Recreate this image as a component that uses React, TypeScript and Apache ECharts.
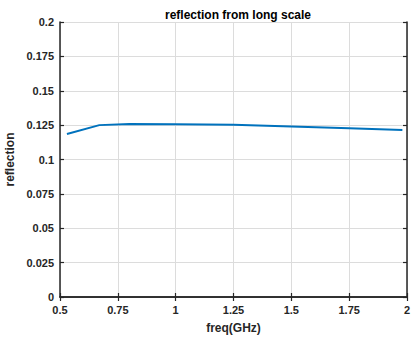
import React, { useEffect, useRef } from "react";
import * as echarts from "echarts";

const freq = [0.53, 0.67, 0.8, 1.0, 1.25, 1.5, 1.75, 1.98];
const reflection = [0.1185, 0.125, 0.1259, 0.1257, 0.1252, 0.124, 0.1228, 0.1215];
const xTicks = [0.5, 0.75, 1, 1.25, 1.5, 1.75, 2];
const yTicks = [0, 0.025, 0.05, 0.075, 0.1, 0.125, 0.15, 0.175, 0.2];

const font = "Liberation Sans, Arial, sans-serif";

export default function App() {
  const ref = useRef<HTMLDivElement>(null);
  useEffect(() => {
    const chart = echarts.init(ref.current!, null, { renderer: "svg" });
    const axisLine = { show: true, lineStyle: { color: "#262626", width: 1.5 } };
    const tick = { show: true, inside: true, length: 4, lineStyle: { color: "#262626", width: 1.2 } };
    const split = { show: true, lineStyle: { color: "#dcdcdc", width: 1 } };
    const label = { color: "#262626", fontSize: 11, fontWeight: "bold" as const, fontFamily: font };
    chart.setOption({
      animation: false,
      backgroundColor: "#ffffff",
      title: {
        text: "reflection from long scale",
        left: 233,
        top: 4,
        textAlign: "center",
        textStyle: { fontSize: 12, fontWeight: "bold", color: "#000", fontFamily: font },
      },
      grid: { left: 60, right: 4, top: 22, bottom: 42, containLabel: false, outerBoundsMode: "none" },
      xAxis: [
        {
          type: "value",
          min: 0.5,
          max: 2,
          interval: 0.25,
          axisLine,
          axisTick: tick,
          splitLine: split,
          axisLabel: {
            ...label,
            margin: 7,
            formatter: (v: number) => {
              const t = xTicks.find((x) => Math.abs(x - v) < 1e-9);
              return t === undefined ? "" : String(t);
            },
          },
          name: "freq(GHz)",
          nameLocation: "middle",
          nameGap: 25,
          nameTextStyle: { ...label, fontSize: 12 },
        },
        {
          type: "value",
          position: "top",
          min: 0.5,
          max: 2,
          interval: 0.25,
          axisLine,
          axisTick: tick,
          splitLine: { show: false },
          axisLabel: { show: false },
        },
      ],
      yAxis: [
        {
          type: "value",
          min: 0,
          max: 0.2,
          interval: 0.025,
          axisLine,
          axisTick: tick,
          splitLine: split,
          axisLabel: {
            ...label,
            margin: 6,
            formatter: (v: number) => {
              const t = yTicks.find((y) => Math.abs(y - v) < 1e-9);
              return t === undefined ? "" : String(t);
            },
          },
          name: "reflection",
          nameLocation: "middle",
          nameGap: 37,
          nameRotate: 90,
          nameTextStyle: { ...label, fontSize: 12 },
        },
        {
          type: "value",
          position: "right",
          min: 0,
          max: 0.2,
          interval: 0.025,
          axisLine,
          axisTick: tick,
          splitLine: { show: false },
          axisLabel: { show: false },
        },
      ],
      series: [
        {
          type: "line",
          data: freq.map((f, i) => [f, reflection[i]]),
          showSymbol: false,
          lineStyle: { color: "#0072BD", width: 2 },
          itemStyle: { color: "#0072BD" },
        },
      ],
    });
    return () => chart.dispose();
  }, []);
  return <div ref={ref} style={{ width: 411, height: 339, position: "absolute", left: 0, top: 0 }} />;
}
